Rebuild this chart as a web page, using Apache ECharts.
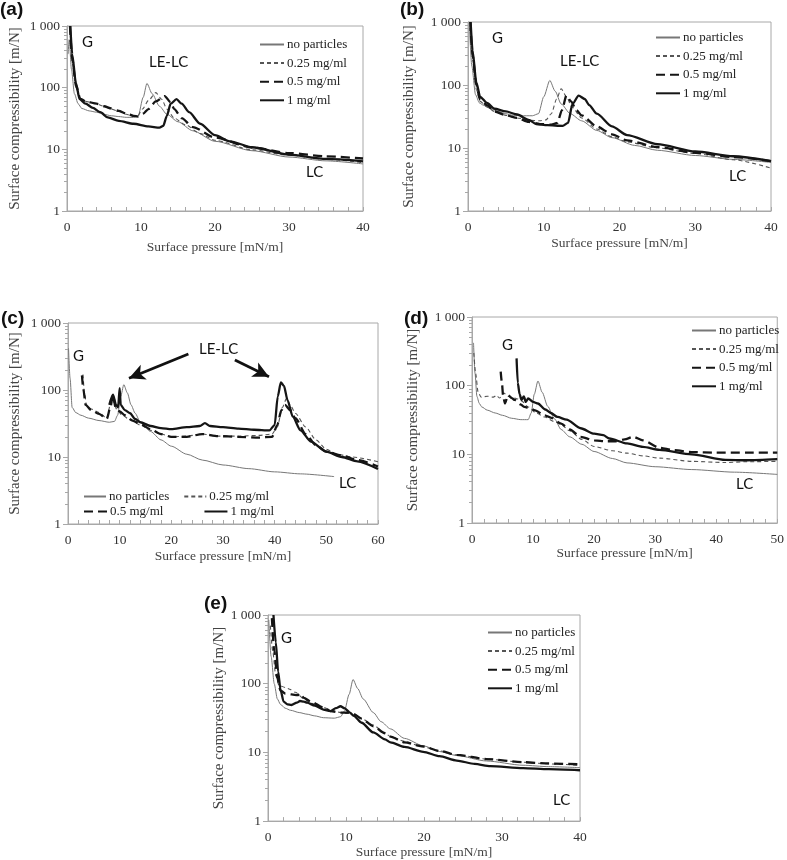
<!DOCTYPE html>
<html><head><meta charset="utf-8">
<script src="https://cdn.jsdelivr.net/npm/echarts@6/dist/echarts.min.js"></script>
<style>html,body{margin:0;padding:0;background:#fff}#c{width:787px;height:860px}</style>
</head><body><div id="c"></div>
<script>
// ---------- DATA ----------
var seriesNames = ['no particles', '0.25 mg/ml', '0.5 mg/ml', '1 mg/ml'];
var panelLabels = ['(a)', '(b)', '(c)', '(d)', '(e)'];
var xMax = [40, 40, 60, 50, 40];
var yTickValues = [1, 10, 100, 1000];
var yMinorTicks = [2,3,4,5,6,7,8,9,20,30,40,50,60,70,80,90,200,300,400,500,600,700,800,900];
var xTitle = 'Surface pressure [mN/m]';
var yTitle = 'Surface compressibility [m/N]';

// panel (a)
var aNoParticles = [[0.15,350],[0.3,600],[0.6,200],[1.0,80],[1.5,55],[2,46],[3,42],[4,40],[5,37],[6,35],[7,34],[8,33],[9,33],[9.6,34],[10.3,70],[10.8,117],[11.5,80],[12.5,50],[13.5,37],[15,28],[17,20],[20,13.5],[25,9.5],[30,7.5],[35,6.5],[40,5.8]];
var a025 = [[0.4,900],[0.7,250],[1.2,100],[1.8,65],[2.5,60],[3.5,57],[5,50],[6,45],[7,41],[8,37],[9,34],[9.5,34],[10.2,45],[11,62],[12,83],[12.8,65],[13.5,45],[14.5,32],[16,25],[18,18],[20,14],[25,9.8],[30,8],[35,6.9],[40,6.1]];
var a05 = [[0.4,1000],[0.7,300],[1.2,110],[1.8,66],[2.5,60],[4,55],[5,50],[6,46],[7,42],[8,38],[9,35],[9.6,34],[10.3,38],[11,45],[12,60],[13.2,73],[14,58],[14.5,45],[15.5,32],[17,23],[20,15.5],[25,10.7],[30,8.7],[35,7.7],[40,7.1]];
var a1 = [[0.45,1000],[0.7,350],[1.2,120],[1.7,65],[2.5,55],[3.5,47],[4.5,40],[5.5,33],[7,29],[9,26],[11,23.5],[12.5,22.5],[13,24],[13.5,35],[14,55],[14.8,65],[15.5,55],[16.5,40],[18,26],[20,17],[22,13.5],[25,10.8],[30,8.2],[35,7],[40,6.4]];
// panel (b)
var bNoParticles = [[0.2,800],[0.5,200],[1,70],[1.5,52],[2,48],[3,42],[4,38],[5,35],[6,33],[7,32.5],[8.5,32.5],[9.3,35],[10,65],[10.8,118],[11.5,80],[12.3,50],[13.5,35],[15,27],[17,19],[19,14.6],[22,11],[25,9.2],[30,7.6],[35,6.6],[40,5.9]];
var b025 = [[0.3,900],[0.6,250],[1.1,85],[1.6,55],[2.5,45],[3.5,38],[5,33],[6.5,30],[8,27.5],[9.5,27],[10.3,28],[11,35],[11.7,60],[12.3,87],[13,65],[13.7,45],[15,30],[17,20],[19,15],[21,12.5],[25,10],[30,8.2],[35,6.5],[40,4.8]];
var b05 = [[0.3,1000],[0.6,300],[1.1,100],[1.6,58],[2.5,48],[3.5,38],[5,33],[6.5,30],[8,26],[9.5,24],[11,23.5],[11.8,25],[12.4,40],[13,68],[13.6,55],[14.3,40],[15,33],[17,22],[19,16.5],[21,13.2],[25,10.4],[30,8.4],[35,7.2],[40,6.2]];
var b1 = [[0.35,1000],[0.6,350],[1.1,110],[1.6,65],[2.5,52],[3.5,42],[5,38],[6.5,34],[8,28],[9,24],[10.5,23],[12.5,22.5],[13.2,25],[13.8,50],[14.6,68],[15.4,60],[16,48],[17,35],[19,22],[21,16],[25,11.5],[30,8.8],[35,7.4],[40,6.2]];
// panel (c)
var cNoParticles = [[0.1,420],[0.4,150],[0.8,55],[1.5,46],[2.5,42],[4,38],[6,35],[8,33],[9,34],[9.6,42],[10.2,80],[10.8,120],[11.5,90],[12.2,60],[13,45],[14,33],[16,24],[18,18],[20,14.5],[23,11],[26,9],[30,7.6],[35,6.7],[40,6],[45,5.6],[51.5,5.1]];
var c025 = [[2.9,170],[3.2,90],[3.6,58],[4.5,52],[6,46],[7.5,38],[8.2,60],[8.6,85],[9,60],[9.5,50],[10.5,42],[12,36],[14,30],[16,25],[18,22],[20,20],[23,20.5],[26,22],[29,20.5],[33,20.5],[37,21],[39.5,22],[40.5,28],[41.5,55],[42.3,75],[43,60],[44,45],[46,28],[48,18],[50,13],[52,11],[55,10],[60,8.5]];
var c05 = [[2.7,165],[3.0,100],[3.4,60],[4.5,50],[6,44],[7.5,37],[8.2,55],[8.7,85],[9.2,55],[10,48],[11,42],[12.5,35],[14,31],[16,26],[18,22],[20,20],[23,20],[26,22],[29,20.5],[33,20],[37,19.5],[39.5,20],[40.5,30],[41.3,50],[42,60],[43,50],[44,38],[46,22],[48,15],[50,12],[53,10.5],[56,9],[60,7.2]];
var c1 = [[8,60],[8.7,85],[9.3,60],[9.7,55],[10,107],[10.2,60],[11,50],[12,45],[13,37],[14,33],[16,29],[18,27],[20,26],[23,28],[25.5,29],[26.5,32],[27.5,29],[30,28],[33,26.5],[36,25.5],[39,25],[40,30],[40.6,80],[41.2,130],[41.8,115],[42.5,70],[43.5,40],[45,25],[47,17],[50,12],[53,10],[56,8.6],[60,6.6]];
// panel (d)
var dNoParticles = [[0.25,420],[0.5,150],[0.8,70],[1.2,55],[1.6,49],[2.5,44],[3.8,40],[5,37],[6.5,33.5],[8,32],[9.2,32],[9.7,40],[10.2,75],[10.8,117],[11.5,80],[12.4,50],[13.5,33],[14.6,23],[16,18],[18,14],[20,11],[23,8.7],[25.4,7.5],[30,6.6],[36,6],[43,5.5],[50,5.1]];
var d025 = [[0.3,300],[0.6,150],[1,80],[1.5,68],[2.5,70],[3.5,68],[4,72],[4.5,66],[5.2,78],[5.9,70],[6.5,68],[7.5,64],[8.1,60],[9.2,49],[10.5,40],[11.9,35],[13.5,30],[14.6,27],[16,22],[18,16.5],[20,13],[23,11.3],[25.4,10.4],[28,9.5],[30.7,8.8],[36,7.9],[41.5,7.6],[45,7.8],[50,7.9]];
var d05 = [[4.7,160],[4.9,110],[5.1,70],[5.4,55],[5.9,73],[6.5,66],[7,62],[8,53],[8.6,49],[9.5,47],[10.2,44],[11.9,37],[13,34],[14.6,28],[16,23],[17.8,18],[20,16],[22,15.5],[23.5,15.5],[25,16.5],[26.4,18],[28,16],[30.7,12.5],[33,11.5],[36,10.8],[40,10.6],[45,10.6],[50,10.6]];
var d1 = [[7.3,250],[7.5,110],[7.8,75],[8.1,62],[8.5,70],[8.8,58],[9.2,65],[10,58],[10.8,55],[12,45],[12.9,40],[14,35],[15.5,32],[17.8,24],[20,20],[21.5,19],[22.5,17],[25.4,14.4],[28,12.8],[30.7,11.6],[36,10],[41.5,8.3],[45,8.2],[50,8.5]];
// panel (e)
var eNoParticles = [[0.1,850],[0.4,250],[0.8,100],[1.2,60],[1.6,50],[2.2,44],[2.9,41],[4,38],[5,36],[6,34],[7.1,32],[8.5,31.5],[9.3,33],[9.8,40],[10.4,70],[10.9,115],[11.5,85],[12.2,60],[13.5,38],[14.5,28],[15.7,22],[17.5,16],[19.9,12.5],[22,10.3],[24.2,9],[28,7.5],[32.7,6.5],[36,6.2],[40,6]];
var e025 = [[0.3,700],[0.6,300],[1,130],[1.4,95],[2.2,88],[2.9,82],[3.5,75],[4.6,60],[5.5,52],[7.1,45],[8.2,41],[9.3,38],[10.2,37],[11,35],[12,31],[13.5,25],[15,19],[15.7,17],[17.5,14.5],[19.9,12],[22,10.5],[24.2,9.2],[28,8],[32.7,7.2],[36,6.8],[40,6.5]];
var e05 = [[0.5,900],[0.8,300],[1.2,120],[1.6,80],[2.2,72],[3,70],[3.8,68],[4.1,72],[4.6,62],[5.5,55],[7.1,45],[8,40],[9.3,38],[10.3,38],[11,36],[12,31],[13.5,24],[15,19],[15.7,17],[17.5,14],[19.9,12.2],[22,10.5],[24.2,9.2],[28,8],[32.7,7.2],[36,6.9],[40,6.7]];
var e1 = [[0.7,1000],[1,400],[1.3,150],[1.6,82],[2,55],[2.5,50],[3,49],[3.7,53],[4.1,56],[4.6,55],[5,53],[6,48],[7.1,42],[8,40],[8.7,44],[9.3,47],[9.8,44],[10.5,38],[11,34],[12,27],[13.5,19.5],[15,15.5],[15.7,14],[17.5,12],[19.9,10.2],[22,8.8],[24.2,7.6],[26.5,6.8],[28.5,6.3],[32.7,5.9],[36,5.7],[40,5.5]];

var panelData = [
  [aNoParticles, a025, a05, a1],
  [bNoParticles, b025, b05, b1],
  [cNoParticles, c025, c05, c1],
  [dNoParticles, d025, d05, d1],
  [eNoParticles, e025, e05, e1]
];

// ---------- LAYOUT / STYLE ----------
var grids = [
  {left:67, top:26, width:296, height:185},
  {left:468, top:22, width:303, height:189},
  {left:68, top:323, width:310, height:201},
  {left:472, top:317, width:309, height:206},
  {left:268, top:615, width:312, height:207}
];
var yNameGap = [44, 51, 45, 51, 39];
var xNameGap = [29, 25, 25, 22, 22];
var SERIF = 'Liberation Serif';
var lineStyles = [
  {color:'#777', width:1, type:'solid'},
  {color:'#555', width:1.1, type:[4,3]},
  {color:'#151515', width:2.3, type:[9,5]},
  {color:'#151515', width:2.3, type:'solid'}
];
var AX = '#a8a8a8';

var option = {
  animation:false,
  backgroundColor:'#fff',
  grid: grids.map(function(g){ return Object.assign({show:true, borderColor:AX, borderWidth:1, backgroundColor:'transparent'}, g); }),
  xAxis: [], yAxis: [], series: [], legend: [], graphic: []
};

grids.forEach(function(g, i){
  option.xAxis.push({
    type:'value', gridIndex:i, min:0, max:xMax[i], interval:10,
    name:xTitle, nameLocation:'middle', nameGap:xNameGap[i],
    nameTextStyle:{fontFamily:SERIF, fontSize:13.5, color:'#444'},
    axisLine:{lineStyle:{color:AX}},
    axisTick:{show:true, inside:true, length:4, lineStyle:{color:AX}},
    minorTick:{show:true, splitNumber:5, length:4, lineStyle:{color:AX}},
    splitLine:{show:false},
    axisLabel:{fontFamily:SERIF, fontSize:13.5, color:'#333', margin:9}
  });
  option.yAxis.push({
    type:'log', logBase:10, gridIndex:i, min:1, max:1000, position:'left',
    name:yTitle, nameLocation:'middle', nameGap:yNameGap[i],
    nameTextStyle:{fontFamily:SERIF, fontSize:15, color:'#444'},
    axisLine:{show:true, lineStyle:{color:AX}},
    axisTick:{show:true, length:5, lineStyle:{color:AX}, customValues:yTickValues},
    splitLine:{show:false},
    axisLabel:{fontFamily:SERIF, fontSize:13.5, color:'#333', margin:7,
      customValues:yTickValues,
      formatter:function(v){ return v >= 1000 ? '1 000' : String(v); }}
  });
  option.yAxis.push({
    type:'log', logBase:10, gridIndex:i, min:1, max:1000, position:'left', offset:0,
    axisLine:{show:false}, axisLabel:{show:false}, splitLine:{show:false},
    axisTick:{show:true, length:3, lineStyle:{color:AX}, customValues:yMinorTicks}
  });
  panelData[i].forEach(function(d, k){
    option.series.push({
      name:seriesNames[k], type:'line', xAxisIndex:i, yAxisIndex:2*i,
      data:d, showSymbol:false, symbol:'none', smooth:0.25, smoothMonotone:'x',
      clip:true, lineStyle:lineStyles[k], itemStyle:{color:lineStyles[k].color},
      z: 2 + k
    });
  });
});

// arrows in panel (c)
var arrowFrom = [[23.3, 345], [32.3, 280]];
var arrowTo = [[11.8, 150], [38.9, 158]];
option.series[8].markLine = {
  silent:true, symbol:['none','arrow'], symbolSize:[12,16], label:{show:false},
  lineStyle:{color:'#111', width:2.8, type:'solid'},
  data: arrowFrom.map(function(f, j){ return [{coord:f}, {coord:arrowTo[j]}]; })
};

// legends
var legBase = {orient:'vertical', itemWidth:24, itemHeight:12, itemGap:5.6, padding:0,
  itemStyle:{opacity:0, borderWidth:0},
  textStyle:{fontFamily:SERIF, fontSize:13, color:'#222', padding:[0,0,0,-2]}, selectedMode:false};
[[0,259,38],[1,655,31],[3,691,324],[4,487,626]].forEach(function(p){
  option.legend.push(Object.assign({}, legBase, {left:p[1], top:p[2], data:seriesNames.slice()}));
});
option.legend.push(Object.assign({}, legBase, {orient:'horizontal', left:83, top:490, itemWidth:22, itemGap:14, data:[seriesNames[0], seriesNames[1]]}));
option.legend.push(Object.assign({}, legBase, {orient:'horizontal', left:83, top:505, itemWidth:23, itemGap:40, data:[seriesNames[2], seriesNames[3]]}));

// text annotations
var SANS = 'Lato';
function txt(s, x, y, font, size, weight){
  return {type:'text', left:x, top:y, style:{text:s, fontFamily:font, fontSize:size, fontWeight:weight||'normal', fill:'#111'}};
}
var labelPos = [[0,0],[400,0],[1,309],[404,309],[204,594]];
labelPos.forEach(function(p, i){ option.graphic.push(txt(panelLabels[i], p[0], p[1], 'Liberation Sans', 19, 'bold')); });
var annotations = [
  ['G',82,35],['LE-LC',149,55],['LC',306,165],
  ['G',492,31],['LE-LC',560,54],['LC',729,169],
  ['G',73,349],['LE-LC',199,342],['LC',339,476],
  ['G',502,338],['LC',736,477],
  ['G',281,631],['LC',553,793]
];
annotations.forEach(function(a){ option.graphic.push(txt(a[0], a[1], a[2], SANS, 15)); });

var chart = echarts.init(document.getElementById('c'), null, {renderer:'canvas'});
chart.setOption(option);
</script></body></html>
